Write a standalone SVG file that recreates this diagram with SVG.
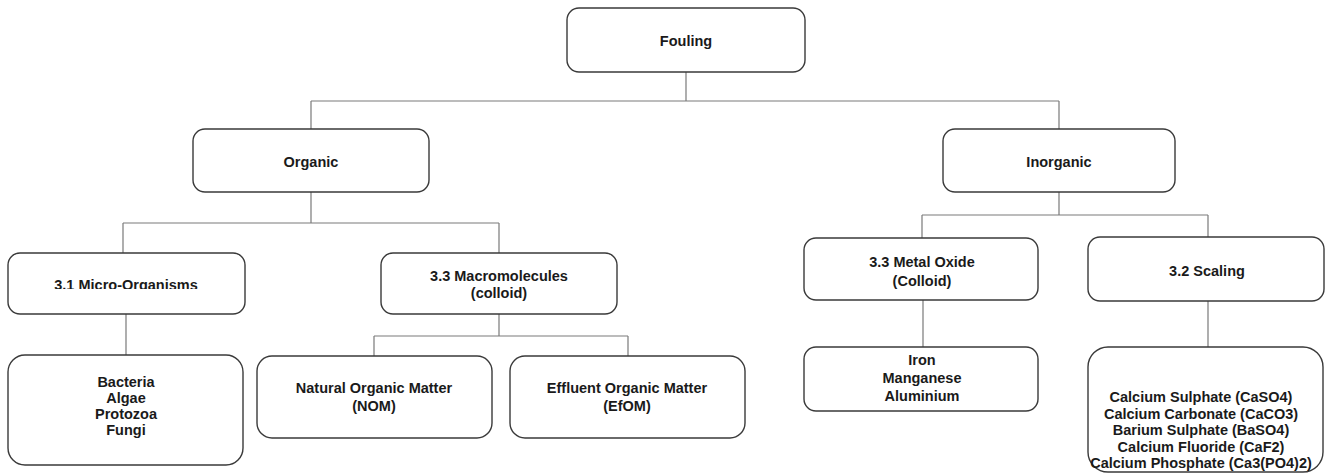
<svg xmlns="http://www.w3.org/2000/svg" width="1325" height="473" viewBox="0 0 1325 473">
<style>
.box{fill:#fff;stroke:#3a3a3a;stroke-width:1.4}
.ln{fill:none;stroke:#7a7a7a;stroke-width:1.2}
text{font-family:"Liberation Sans",Arial,sans-serif;font-weight:bold;font-size:14.5px;fill:#1a1a1a;text-anchor:middle}
</style>
<defs>
<clipPath id="clipMicro"><rect x="0" y="250" width="260" height="39"/></clipPath>
</defs>
<rect width="1325" height="473" fill="#fff"/>
<g id="connectors">
<path class="ln" d="M686,72V101M311,101H1059M311,101V129M1059,101V129"/>
<path class="ln" d="M311,192V223M123,223H499M123,223V253M499,223V253"/>
<path class="ln" d="M126,314V355M499,314V336M374,336H628M374,336V356M628,336V356"/>
<path class="ln" d="M1059,192V215M922,215H1208M922,215V238M1208,215V238"/>
<path class="ln" d="M923,300V347M1208,301V347"/>
</g>
<g id="fouling"><rect class="box" x="567" y="8" width="238" height="64" rx="12"/><text x="686" y="46">Fouling</text></g>
<g id="organic"><rect class="box" x="193" y="129" width="236" height="63" rx="12"/><text x="311" y="167">Organic</text></g>
<g id="inorganic"><rect class="box" x="943" y="129" width="232" height="63" rx="12"/><text x="1059" y="167">Inorganic</text></g>
<g id="micro"><rect class="box" x="8" y="253" width="237" height="61" rx="12"/><text x="126" y="290" clip-path="url(#clipMicro)">3.1 Micro-Organisms</text></g>
<g id="macro"><rect class="box" x="381" y="253" width="236" height="61" rx="12"/><text x="499" y="281">3.3 Macromolecules</text><text x="499" y="298">(colloid)</text></g>
<g id="metal"><rect class="box" x="804" y="238" width="234" height="62" rx="12"/><text x="922" y="267">3.3 Metal Oxide</text><text x="922" y="286">(Colloid)</text></g>
<g id="scaling"><rect class="box" x="1088" y="237" width="236" height="64" rx="12"/><text x="1207" y="276">3.2 Scaling</text></g>
<g id="bacteria"><rect class="box" x="8" y="355" width="235" height="110" rx="17"/><text x="126" y="387">Bacteria</text><text x="126" y="403">Algae</text><text x="126" y="419">Protozoa</text><text x="126" y="435">Fungi</text></g>
<g id="nom"><rect class="box" x="257" y="356" width="235" height="82" rx="15"/><text x="374" y="393">Natural Organic Matter</text><text x="374" y="411">(NOM)</text></g>
<g id="efom"><rect class="box" x="510" y="356" width="235" height="82" rx="15"/><text x="627" y="393">Effluent Organic Matter</text><text x="627" y="411">(EfOM)</text></g>
<g id="iron"><rect class="box" x="804" y="347" width="234" height="64" rx="12"/><text x="922" y="365">Iron</text><text x="922" y="383">Manganese</text><text x="922" y="401">Aluminium</text></g>
<g id="calcium"><rect class="box" x="1088" y="347" width="235" height="125" rx="20"/><text x="1201" y="402">Calcium Sulphate (CaSO4)</text><text x="1201" y="418.5">Calcium Carbonate (CaCO3)</text><text x="1201" y="435">Barium Sulphate (BaSO4)</text><text x="1201" y="451.5">Calcium Fluoride (CaF2)</text><text x="1201" y="468">Calcium Phosphate (Ca3(PO4)2)</text></g>
</svg>
